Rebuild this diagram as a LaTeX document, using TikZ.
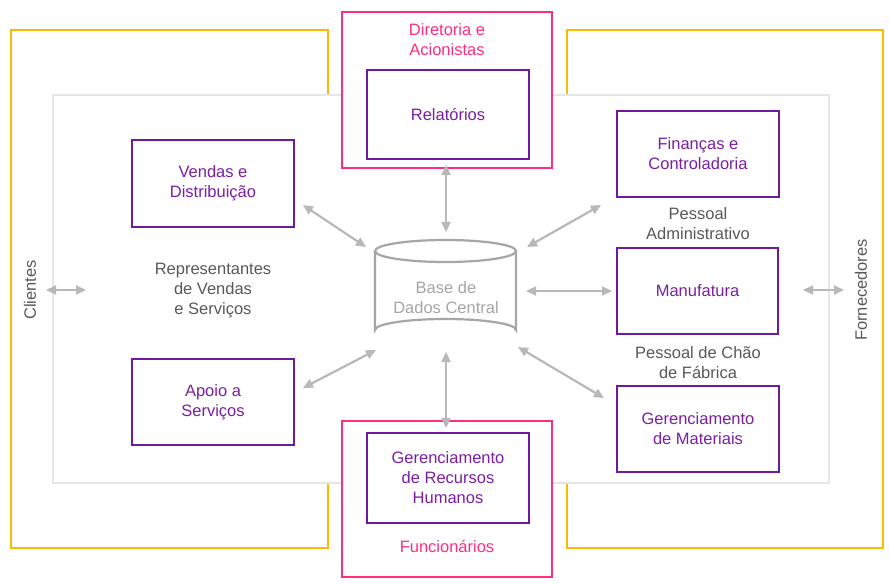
\documentclass[tikz,border=0pt]{standalone}
\usepackage{fontspec}
\setmainfont{Liberation Sans}
\usetikzlibrary{arrows.meta}
\definecolor{ylw}{HTML}{FFB900}
\definecolor{pnk}{HTML}{FF2D80}
\definecolor{prp}{HTML}{6E1A9A}
\definecolor{prptxt}{HTML}{7B1FA2}
\definecolor{txtgray}{HTML}{595959}
\definecolor{dbgray}{HTML}{A6A6A6}
\definecolor{arrgray}{HTML}{B8B8B8}
\definecolor{boxgray}{HTML}{E6E6E6}
\tikzset{
  x=1pt,y=-1pt,
  every node/.style={font=\fontsize{16.5}{20}\selectfont, align=center, inner sep=0pt},
  ybox/.style={draw=ylw, line width=2.4pt},
  gbox/.style={draw=boxgray, line width=2.4pt, fill=white},
  pbox/.style={draw=pnk, line width=2.7pt, fill=white},
  vbox/.style={draw=prp, line width=2.7pt, fill=white},
  vtxt/.style={text=prptxt},
  ptxt/.style={text=pnk},
  gtxt/.style={text=txtgray},
  dbtxt/.style={text=dbgray},
  conn/.style={draw=arrgray, line width=2.2pt, {Triangle[length=10pt,width=9pt]}-{Triangle[length=10pt,width=9pt]}},
}
\begin{document}
\begin{tikzpicture}
\useasboundingbox (0,0) rectangle (889,585);
% outer yellow boxes
\draw[ybox] (11,30) rectangle (328,548);
\draw[ybox] (567,30) rectangle (883,548);
% gray box
\draw[gbox] (53,95) rectangle (829,483);
% pink boxes
\draw[pbox] (342,12) rectangle (552,168);
\draw[pbox] (342,421) rectangle (552,577);
% purple boxes
\node[vbox, minimum width=162pt, minimum height=89pt] (rel) at (448,114.5) {};
\node[vbox, minimum width=162pt, minimum height=87pt] (vend) at (213,183.5) {};
\node[vbox, minimum width=162pt, minimum height=86pt] (fin) at (698,154) {};
\node[vbox, minimum width=161pt, minimum height=86pt] (man) at (697.5,291) {};
\node[vbox, minimum width=162pt, minimum height=86pt] (apo) at (213,402) {};
\node[vbox, minimum width=162pt, minimum height=86pt] (mat) at (698,429) {};
\node[vbox, minimum width=162pt, minimum height=90pt] (rh) at (448,478) {};
% texts in boxes
\node[vtxt] at (rel) {Relatórios};
\node[vtxt] at (vend) {Vendas e\\Distribuição};
\node[vtxt] at (fin) {Finanças e\\Controladoria};
\node[vtxt] at (man) {Manufatura};
\node[vtxt] at (apo) {Apoio a\\Serviços};
\node[vtxt] at (mat) {Gerenciamento\\de Materiais};
\node[vtxt] at (rh) {Gerenciamento\\de Recursos\\Humanos};
% pink labels
\node[ptxt] (dir) at (447,40) {Diretoria e\\Acionistas};
\node[ptxt] (func) at (447,547) {Funcionários};
% gray labels
\node[gtxt] (rep) at (213,291) {Representantes\\de Vendas\\e Serviços};
\node[gtxt] (padm) at (698,224) {Pessoal\\Administrativo};
\node[gtxt] (pcf) at (698,362.5) {Pessoal de Chão\\de Fábrica};
\node[gtxt, rotate=90] (cli) at (30,290) {Clientes};
\node[gtxt, rotate=90] (forn) at (861,290) {Fornecedores};
% database cylinder
\draw[dbgray, line width=2.2pt, fill=white] (375,251) -- (375,330) arc[start angle=180, end angle=360, x radius=70.5, y radius=11] -- (516,251);
\draw[dbgray, line width=2.2pt] (445.5,251) ellipse[x radius=70.5, y radius=11];
\node[dbtxt] (db) at (446,298) {Base de\\Dados Central};
% arrow end coordinates
\coordinate (c1) at (46,290);   \coordinate (c2) at (86,290);
\coordinate (f1) at (803,290);  \coordinate (f2) at (844,290);
\coordinate (r1) at (446,165);  \coordinate (r2) at (446,232);
\coordinate (h1) at (446,352);  \coordinate (h2) at (446,428);
\coordinate (m1) at (526,291);  \coordinate (m2) at (612,291);
\coordinate (v1) at (303,205);  \coordinate (v2) at (366,247);
\coordinate (fi1) at (527,247); \coordinate (fi2) at (601,205);
\coordinate (a1) at (303,388);  \coordinate (a2) at (376,350);
\coordinate (ma1) at (518,347); \coordinate (ma2) at (604,398);
\draw[conn] (c1) -- (c2);
\draw[conn] (f1) -- (f2);
\draw[conn] (r1) -- (r2);
\draw[conn] (h1) -- (h2);
\draw[conn] (m1) -- (m2);
\draw[conn] (v1) -- (v2);
\draw[conn] (fi1) -- (fi2);
\draw[conn] (a1) -- (a2);
\draw[conn] (ma1) -- (ma2);
\end{tikzpicture}
\end{document}
